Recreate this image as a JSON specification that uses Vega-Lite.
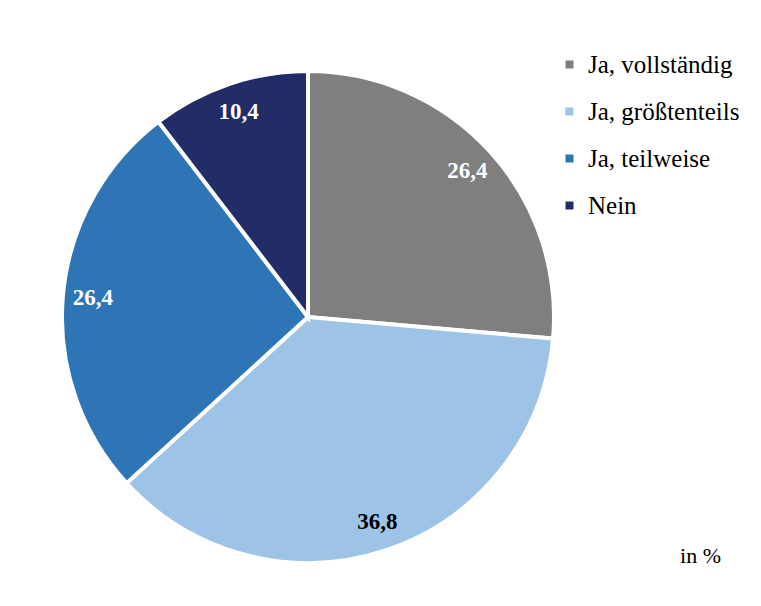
{
  "$schema": "https://vega.github.io/schema/vega-lite/v6.json",
  "autosize": {"type": "none"},
  "padding": {"left": 10, "top": 28, "right": 155, "bottom": 0},
  "width": 596,
  "height": 578,
  "background": "white",
  "config": {
    "view": {"stroke": null},
    "locale": {"number": {"decimal": ",", "thousands": ".", "grouping": [3], "currency": ["", " €"]}},
    "font": "Liberation Serif",
    "legend": {"labelFont": "Liberation Serif", "labelFontSize": 25, "labelColor": "black"},
    "title": {"font": "Liberation Serif"}
  },
  "title": {
    "text": "in %",
    "orient": "bottom",
    "anchor": "end",
    "frame": "group",
    "font": "Liberation Serif",
    "fontSize": 22,
    "fontWeight": "normal",
    "color": "black",
    "dx": 115,
    "dy": -64
  },
  "data": {
    "values": [
      {"cat": "Ja, vollständig", "val": 26.4, "idx": 1},
      {"cat": "Ja, größtenteils", "val": 36.8, "idx": 2},
      {"cat": "Ja, teilweise", "val": 26.4, "idx": 3},
      {"cat": "Nein", "val": 10.4, "idx": 4}
    ]
  },
  "encoding": {
    "theta": {"field": "val", "type": "quantitative", "stack": true},
    "order": {"field": "idx", "type": "quantitative"}
  },
  "layer": [
    {
      "mark": {"type": "arc", "outerRadius": 246, "stroke": "white", "strokeWidth": 4},
      "encoding": {
        "color": {
          "field": "cat",
          "type": "nominal",
          "sort": ["Ja, vollständig", "Ja, größtenteils", "Ja, teilweise", "Nein"],
          "scale": {
            "domain": ["Ja, vollständig", "Ja, größtenteils", "Ja, teilweise", "Nein"],
            "range": ["#7f7f7f", "#9dc3e6", "#2e75b6", "#222c66"]
          },
          "legend": {
            "title": null,
            "orient": "none",
            "legendX": 547,
            "legendY": 24,
            "symbolType": "square",
            "symbolSize": 64,
            "symbolStrokeWidth": 0,
            "labelFont": "Liberation Serif",
            "labelFontSize": 25,
            "labelColor": "black",
            "labelOffset": 6,
            "rowPadding": 21,
            "labelLimit": 300
          }
        }
      }
    },
    {
      "mark": {"type": "text", "radius": 216, "font": "Liberation Serif", "fontSize": 23, "fontWeight": "bold", "color": "white"},
      "encoding": {
        "text": {"field": "val", "type": "quantitative", "format": ".1f"},
        "opacity": {
          "condition": {"test": "datum.cat === 'Ja, größtenteils'", "value": 0},
          "value": 1
        }
      }
    },
    {
      "mark": {"type": "text", "radius": 216, "font": "Liberation Serif", "fontSize": 23, "fontWeight": "bold", "color": "black"},
      "encoding": {
        "text": {"field": "val", "type": "quantitative", "format": ".1f"},
        "opacity": {
          "condition": {"test": "datum.cat === 'Ja, größtenteils'", "value": 1},
          "value": 0
        }
      }
    }
  ]
}
